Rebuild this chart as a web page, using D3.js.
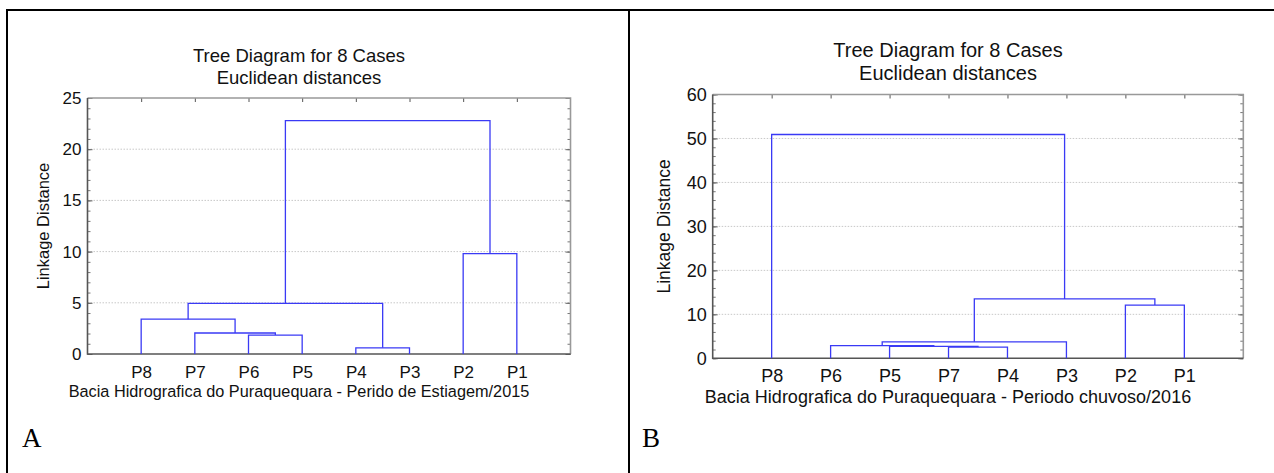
<!DOCTYPE html>
<html><head><meta charset="utf-8">
<script src="https://cdn.jsdelivr.net/npm/d3@7"></script>
<style>
html,body{margin:0;padding:0;background:#fff;}
svg{display:block;}
text{font-family:"Liberation Sans",Arial,sans-serif;fill:#111;}
text.letter{font-family:"Liberation Serif","Times New Roman",serif;fill:#000;}
</style></head>
<body>
<svg id="c" width="1274" height="473"></svg>
<script>
// ---------- DATA ----------
const titleLines = ["Tree Diagram for 8 Cases", "Euclidean distances"];
const yAxisTitle = "Linkage Distance";

// Panel A
const leavesA = ["P8","P7","P6","P5","P4","P3","P2","P1"];
// merges: [left, right, height]; indices < 8 are leaves, >= 8 are earlier merges (8 + merge index)
const mergesA = [
  [2, 3, 1.85],   // P6 + P5
  [1, 8, 2.05],   // P7 + (P6,P5)
  [0, 9, 3.4],    // P8 + (...)
  [4, 5, 0.6],    // P4 + P3
  [10, 11, 4.95],
  [6, 7, 9.8],    // P2 + P1
  [12, 13, 22.8]
];
const yTicksA = [0, 5, 10, 15, 20, 25];
const xTitleA = "Bacia Hidrografica do Puraquequara - Perido de Estiagem/2015";

// Panel B
const leavesB = ["P8","P6","P5","P7","P4","P3","P2","P1"];
const mergesB = [
  [3, 4, 2.55],   // P7 + P4
  [2, 8, 2.7],    // P5 + (P7,P4)
  [1, 9, 2.9],    // P6 + (...)
  [10, 5, 3.75],  // (...) + P3
  [6, 7, 12.1],   // P2 + P1
  [11, 12, 13.5],
  [0, 13, 50.9]   // P8 + rest
];
const yTicksB = [0, 10, 20, 30, 40, 50, 60];
const xTitleB = "Bacia Hidrografica do Puraquequara - Periodo chuvoso/2016";

const panelLetters = ["A", "B"];

// ---------- DRAW ----------
const svg = d3.select("#c");

// outer frame
const frame = svg.append("g").attr("stroke", "#000").attr("stroke-width", 2);
frame.append("line").attr("x1", 6).attr("x2", 1274).attr("y1", 10).attr("y2", 10);
frame.append("line").attr("x1", 7).attr("x2", 7).attr("y1", 9).attr("y2", 473);
frame.append("line").attr("x1", 629).attr("x2", 629).attr("y1", 9).attr("y2", 473);

function panel(cfg) {
  const {leaves, merges, yTicks, yMax, minorStep, xTitle, L, R, T, B, fs, letter} = cfg;
  const g = svg.append("g");
  const x = d3.scalePoint().domain(leaves).range([L, R]).padding(1);
  const y = d3.scaleLinear().domain([0, yMax]).range([B, T]);

  // gridlines
  g.append("g").selectAll("line").data(yTicks.filter(v => v > 0 && v < yMax)).join("line")
    .attr("x1", L).attr("x2", R).attr("y1", d => y(d)).attr("y2", d => y(d))
    .attr("stroke", "#c8c8c8").attr("stroke-width", 1).attr("stroke-dasharray", "1.5,1.5");

  const minors = d3.range(0, yMax + 0.001, minorStep);

  // left axis: minor + major ticks inward
  const axL = g.append("g").attr("transform", `translate(${L},0)`)
    .call(d3.axisLeft(y).tickValues(minors).tickSize(-3).tickFormat(""));
  axL.select(".domain").remove();
  axL.selectAll("line").attr("stroke", "#777");
  const axLM = g.append("g").attr("transform", `translate(${L},0)`)
    .call(d3.axisLeft(y).tickValues(yTicks).tickSizeInner(-5).tickSizeOuter(0).tickPadding(6));
  axLM.select(".domain").remove();
  axLM.selectAll("line").attr("stroke", "#666");
  axLM.selectAll("text").style("font-size", fs.tick + "px");

  // right axis ticks inward
  const axR = g.append("g").attr("transform", `translate(${R},0)`)
    .call(d3.axisRight(y).tickValues(minors).tickSize(-3).tickFormat(""));
  axR.select(".domain").remove();
  axR.selectAll("line").attr("stroke", "#777");
  const axRM = g.append("g").attr("transform", `translate(${R},0)`)
    .call(d3.axisRight(y).tickValues(yTicks).tickSize(-5).tickFormat(""));
  axRM.select(".domain").remove();
  axRM.selectAll("line").attr("stroke", "#666");

  // top axis ticks inward at leaf positions
  const axT = g.append("g").attr("transform", `translate(0,${T})`)
    .call(d3.axisTop(x).tickSize(-4).tickFormat(""));
  axT.select(".domain").remove();
  axT.selectAll("line").attr("stroke", "#555");

  // bottom labels
  const axB = g.append("g").attr("transform", `translate(0,${B})`)
    .call(d3.axisBottom(x).tickSize(0).tickPadding(fs.xpad));
  axB.select(".domain").remove();
  axB.selectAll("text").style("font-size", fs.tick + "px");

  // plot frame
  g.append("path").attr("d", `M${L},${T}H${R}V${B}`).attr("fill", "none")
    .attr("stroke", "#999").attr("stroke-width", 1.6);
  g.append("path").attr("d", `M${L},${T}V${B}H${R}`).attr("fill", "none")
    .attr("stroke", "#555").attr("stroke-width", 1.6);

  // dendrogram
  const pos = leaves.map((d, i) => ({x: x(d), h: 0}));
  const segs = [];
  merges.forEach(([a, b, h]) => {
    const pa = pos[a], pb = pos[b];
    segs.push(`M${pa.x},${y(pa.h)}V${y(h)}H${pb.x}V${y(pb.h)}`);
    pos.push({x: (pa.x + pb.x) / 2, h: h});
  });
  g.append("g").selectAll("path").data(segs).join("path")
    .attr("d", d => d).attr("fill", "none")
    .attr("stroke", "#3a3af5").attr("stroke-width", 1.3);

  // titles
  const cx = cfg.titleX;
  g.append("text").attr("x", cx).attr("y", cfg.titleY[0]).attr("text-anchor", "middle")
    .style("font-size", fs.title + "px").text(titleLines[0]);
  g.append("text").attr("x", cx).attr("y", cfg.titleY[1]).attr("text-anchor", "middle")
    .style("font-size", fs.title + "px").text(titleLines[1]);

  g.append("text").attr("x", cx).attr("y", cfg.xTitleY).attr("text-anchor", "middle")
    .style("font-size", fs.xtitle + "px").text(xTitle);

  g.append("text").attr("transform", `translate(${cfg.yTitleX},${(T + B) / 2}) rotate(-90)`)
    .attr("text-anchor", "middle").attr("dominant-baseline", "central")
    .style("font-size", fs.ytitle + "px").text(yAxisTitle);

  g.append("text").attr("class", "letter").attr("x", cfg.letterX).attr("y", 447)
    .style("font-size", "27px").text(letter);
}

panel({
  leaves: leavesA, merges: mergesA, yTicks: yTicksA, yMax: 25, minorStep: 1,
  xTitle: xTitleA, L: 87.5, R: 570.5, T: 98, B: 354,
  fs: {tick: 17, title: 18.5, xtitle: 16.3, ytitle: 16.5, xpad: 12},
  titleX: 299, titleY: [62, 84], xTitleY: 397, yTitleX: 43, letterX: 22, letter: panelLetters[0]
});

panel({
  leaves: leavesB, merges: mergesB, yTicks: yTicksB, yMax: 60, minorStep: 2,
  xTitle: xTitleB, L: 712.7, R: 1243.3, T: 94.5, B: 358.3,
  fs: {tick: 18, title: 20, xtitle: 18, ytitle: 17.5, xpad: 11},
  titleX: 948, titleY: [57, 80], xTitleY: 403, yTitleX: 664, letterX: 642, letter: panelLetters[1]
});
</script>
</body></html>
